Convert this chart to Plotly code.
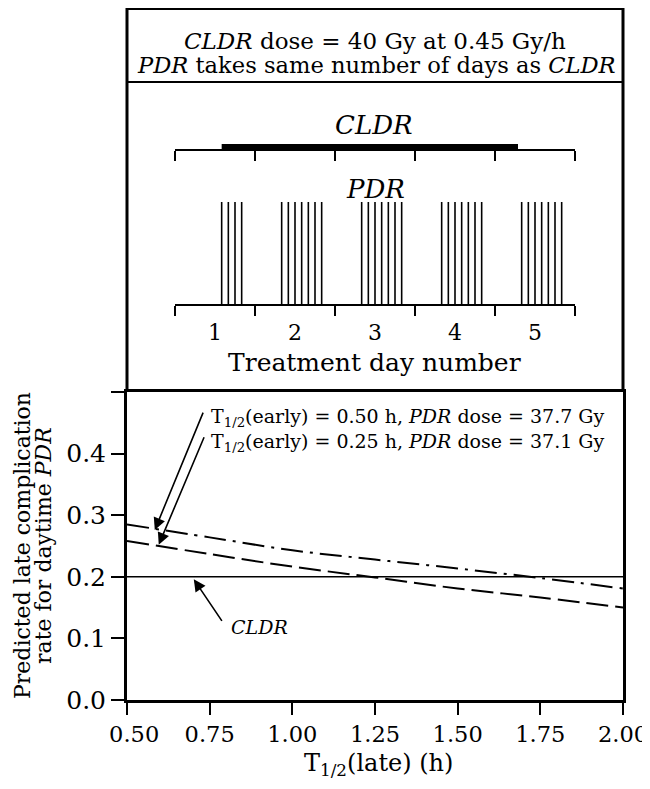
import plotly.graph_objects as go

# ---------------- data ----------------
# lower panel: predicted late complication rate vs T1/2(late)
t_late = [0.5, 0.75, 1.0, 1.25, 1.5, 1.75, 2.0]
rate_early_050 = [0.285, 0.264, 0.243, 0.228, 0.2135, 0.198, 0.181]   # T1/2(early)=0.50 h, PDR 37.7 Gy
rate_early_025 = [0.258, 0.237, 0.2165, 0.199, 0.181, 0.1665, 0.150]  # T1/2(early)=0.25 h, PDR 37.1 Gy
cldr_rate = 0.2

x_ticks = [0.5, 0.75, 1.0, 1.25, 1.5, 1.75, 2.0]
x_ticktext = ["\u00a0\u00a00.50", "0.75", "1.00", "1.25", "1.50", "1.75", "2.00"]
y_ticks = [0.0, 0.1, 0.2, 0.3, 0.4, 0.5]
y_ticktext = ["0.0", "0.1", "0.2", "0.3", "0.4", ""]

# upper panel: treatment schedule (hours from start of day 1)
treatment_days = [1, 2, 3, 4, 5]
day_boundaries_h = [0, 24, 48, 72, 96, 120]
day_centres_h = [12, 36, 60, 84, 108]
pulse_hours_day1 = [14, 16, 18, 20]
pulse_hours_day2_5 = [8, 10, 12, 14, 16, 18, 20]
cldr_start_h = 14.0
cldr_end_h = 102.9

# ---------------- geometry helpers (window pixels -> paper) ----------------
OFF = 8                      # page body margin
W, H = 650 - OFF, 789 - OFF
PLOT_L, PLOT_R, PLOT_T, PLOT_B = 127, 623, 8, 700   # window pixels
ML, MT = PLOT_L - OFF, PLOT_T - OFF
MR, MB = W - (PLOT_R - OFF), H - (PLOT_B - OFF)
PW, PH = PLOT_R - PLOT_L, PLOT_B - PLOT_T


def px(xp):
    return (xp - PLOT_L) / PW


def py(yp):
    return (PLOT_B - yp) / PH


FONT = "DejaVu Serif"
lower_top = py(392)

fig = go.Figure()

# ---------------- lower panel traces ----------------
fig.add_trace(go.Scatter(x=[t_late[0], t_late[-1]], y=[cldr_rate, cldr_rate], mode="lines",
                         line=dict(color="black", width=1.5), showlegend=False, hoverinfo="skip"))
fig.add_trace(go.Scatter(x=t_late, y=rate_early_050, mode="lines",
                         line=dict(color="black", width=2, dash="22px,7px,3px,7px", shape="spline"),
                         showlegend=False))
fig.add_trace(go.Scatter(x=t_late, y=rate_early_025, mode="lines",
                         line=dict(color="black", width=2, dash="22px,7px", shape="spline"),
                         showlegend=False))

# ---------------- upper panel traces ----------------
pulse_times = [h for h in pulse_hours_day1]
for d in treatment_days[1:]:
    pulse_times += [24 * (d - 1) + h for h in pulse_hours_day2_5]
px_list, py_list = [], []
for t in pulse_times:
    px_list += [t, t, None]
    py_list += [0, 1, None]
fig.add_trace(go.Scatter(x=px_list, y=py_list, mode="lines", xaxis="x2", yaxis="y2",
                         line=dict(color="black", width=1.6), showlegend=False, hoverinfo="skip"))

fig.add_trace(go.Scatter(x=[cldr_start_h, cldr_end_h], y=[1.534, 1.534], mode="lines",
                         xaxis="x3", yaxis="y2",
                         line=dict(color="black", width=6), showlegend=False, hoverinfo="skip"))

# ---------------- axes ----------------
fig.update_layout(
    width=W, height=H,
    margin=dict(l=ML, r=MR, t=MT, b=MB, pad=0),
    paper_bgcolor="white", plot_bgcolor="white",
    font=dict(family=FONT, color="black"),
    xaxis=dict(domain=[0, 1], range=[0.5, 2.0], tickmode="array", tickvals=x_ticks, ticktext=x_ticktext,
               ticks="outside", ticklen=12, tickwidth=1.5, tickcolor="black",
               showline=True, linewidth=3, linecolor="black", mirror=True,
               showgrid=False, zeroline=False, tickfont=dict(size=22.5, family=FONT), anchor="y"),
    yaxis=dict(domain=[0, lower_top], range=[0, 0.5], tickmode="array", tickvals=y_ticks, ticktext=y_ticktext,
               ticks="outside", ticklen=13, tickwidth=1.5, tickcolor="black",
               showline=True, linewidth=3, linecolor="black", mirror=True,
               showgrid=False, zeroline=False, tickfont=dict(size=25, family=FONT), anchor="x"),
    xaxis2=dict(domain=[px(175), px(575)], range=[0, 120], anchor="free", position=py(305),
                tickmode="array", tickvals=day_centres_h, ticktext=[str(d) for d in treatment_days],
                ticks="outside", ticklen=8, tickcolor="rgba(0,0,0,0)",
                minor=dict(tickmode="array", tickvals=day_boundaries_h, ticks="outside",
                           ticklen=10, tickwidth=1.5, tickcolor="black", showgrid=False),
                showline=True, linewidth=1.5, linecolor="black",
                showgrid=False, zeroline=False, tickfont=dict(size=22, family=FONT)),
    xaxis3=dict(domain=[px(175), px(575)], range=[0, 120], anchor="free", position=py(150),
                overlaying="x2", showticklabels=False, tickmode="array", tickvals=day_centres_h,
                ticks="", minor=dict(tickmode="array", tickvals=day_boundaries_h, ticks="outside",
                                     ticklen=10, tickwidth=1.5, tickcolor="black", showgrid=False),
                showline=True, linewidth=1.5, linecolor="black", showgrid=False, zeroline=False),
    yaxis2=dict(domain=[lower_top, 1], range=[-(392 - 305) / 103, (305 - 8) / 103], anchor="x2",
                visible=False, showgrid=False, zeroline=False),
)

# ---------------- frame of upper panel ----------------
line = dict(color="black", width=3)
shapes = [
    dict(type="line", xref="paper", yref="paper", x0=0, x1=0, y0=lower_top, y1=1, line=line),
    dict(type="line", xref="paper", yref="paper", x0=1, x1=1, y0=lower_top, y1=1, line=line),
    dict(type="line", xref="paper", yref="paper", x0=0, x1=1, y0=py(9), y1=py(9), line=dict(color="black", width=2)),
    dict(type="line", xref="paper", yref="paper", x0=0, x1=1, y0=py(82), y1=py(82),
         line=dict(color="black", width=2)),
]
fig.update_layout(shapes=shapes)

# ---------------- annotations ----------------
ann = []


def text(x, y, s, size, xanchor="center", **kw):
    ann.append(dict(x=x, y=y, xref="paper", yref="paper", text=s, showarrow=False,
                    xanchor=xanchor, yanchor="middle", font=dict(size=size, family=FONT, color="black"), **kw))


text(px(375), py(41), "<i>CLDR</i> dose = 40 Gy at 0.45 Gy/h", 23)
text(px(376), py(65), "<i>PDR</i> takes same number of days as <i>CLDR</i>", 22.6)
text(px(374), py(125), "<i>CLDR</i>", 26)
text(px(375), py(189), "<i>PDR</i>", 26)
text(px(374), py(362), "Treatment day number", 25)
text(px(209), py(417), "T<sub>1/2</sub>(early) = 0.50 h, <i>PDR</i> dose = 37.7 Gy", 19, xanchor="left")
text(px(209), py(442), "T<sub>1/2</sub>(early) = 0.25 h, <i>PDR</i> dose = 37.1 Gy", 19, xanchor="left")
text(px(229), py(627), "<i>CLDR</i>", 19, xanchor="left")
text(px(378), py(765), "T<sub>1/2</sub>(late) (h)", 24)
text(px(22), py(546), "Predicted late complication", 22, textangle=-90)
text(px(43), py(546), "rate for daytime <i>PDR</i>", 22, textangle=-90)

# arrows (data coordinates of lower panel)
arrows = [
    ((0.584, 0.276), (0.732, 0.469)),
    ((0.596, 0.252), (0.735, 0.429)),
    ((0.702, 0.196), (0.790, 0.126)),
]
for (hx, hy), (tx, ty) in arrows:
    ann.append(dict(x=hx, y=hy, ax=tx, ay=ty, xref="x", yref="y", axref="x", ayref="y",
                    text="", showarrow=True, arrowhead=2, arrowsize=1.5, arrowwidth=1.6,
                    arrowcolor="black"))

fig.update_layout(annotations=ann)

fig.write_html("out.html")
